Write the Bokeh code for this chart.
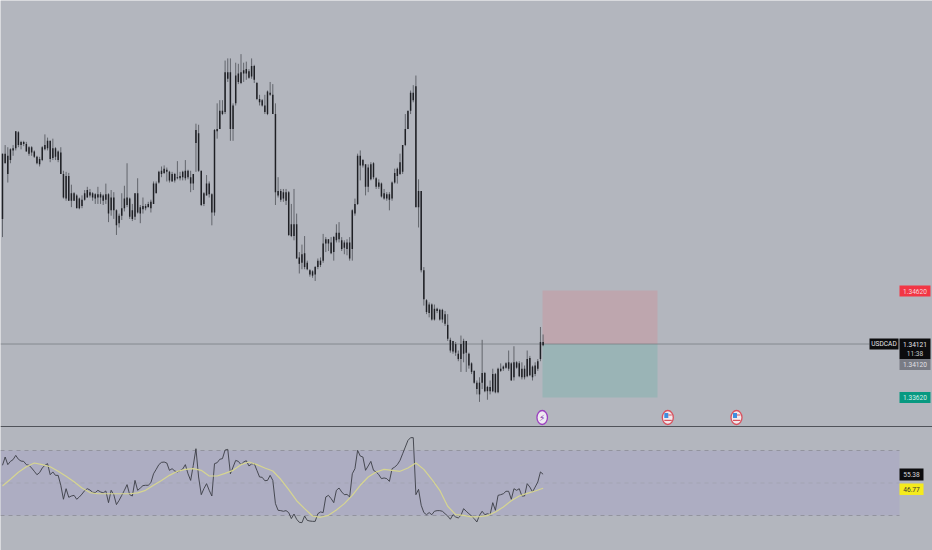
from bokeh.plotting import figure
from bokeh.embed import file_html
from bokeh.resources import INLINE
from bokeh.core.properties import value
from bokeh.models import Range1d
import numpy as np

SYMBOL = "USDCAD"
LAST_PRICE = 1.34121
COUNTDOWN = "11:38"
PREV_PRICE = 1.34120
STOP_PRICE = 1.34620
TARGET_PRICE = 1.33620
RSI_LAST = 55.38
RSI_MA_LAST = 46.77

# prices in units of 0.0001
bar_high = [
13590,13598,13596,13595,13598,13611,13611,13602,13602,13601,
13597,13597,13593,13588,13587,13597,13608,13605,13602,13604,
13596,13593,13596,13574,13573,13572,13561,13554,13552,13549,
13551,13556,13559,13557,13554,13553,13559,13554,13552,13562,
13553,13556,13554,13538,13534,13553,13560,13581,13549,13543,
13553,13567,13542,13549,13543,13545,13547,13564,13564,13574,
13578,13579,13577,13574,13573,13572,13583,13573,13574,13584,
13575,13574,13571,13618,13617,13574,13554,13570,13564,13553,
13613,13637,13640,13640,13677,13679,13679,13637,13675,13674,
13683,13675,13676,13669,13679,13673,13657,13645,13641,13645,
13649,13657,13655,13637,13568,13557,13557,13557,13555,13543,
13557,13534,13498,13505,13513,13490,13482,13481,13485,13492,
13493,13515,13512,13510,13512,13513,13524,13526,13512,13509,
13510,13512,13538,13548,13590,13593,13585,13580,13580,13582,
13582,13568,13566,13563,13557,13554,13554,13564,13576,13577,
13590,13598,13627,13630,13649,13654,13663,13566,13555,13484,
13454,13451,13450,13449,13446,13445,13445,13443,13440,13418,
13415,13414,13406,13420,13417,13415,13404,13395,13387,13378,
13381,13416,13386,13373,13378,13389,13385,13390,13394,13392,
13395,13406,13395,13410,13396,13396,13395,13392,13406,13401,
13392,13395,13398,13428,13421]
bar_low = [
13512,13581,13563,13581,13588,13593,13596,13594,13597,13592,
13588,13588,13586,13580,13578,13583,13593,13593,13582,13584,
13584,13582,13571,13548,13546,13546,13540,13546,13539,13538,
13539,13546,13549,13549,13546,13543,13543,13543,13542,13543,
13526,13532,13529,13514,13521,13528,13536,13540,13529,13527,
13528,13534,13525,13534,13537,13540,13535,13543,13553,13562,
13568,13571,13564,13563,13564,13563,13566,13565,13565,13565,
13566,13554,13556,13573,13573,13541,13541,13551,13549,13523,
13532,13604,13613,13626,13627,13657,13602,13602,13635,13655,
13655,13657,13659,13660,13660,13656,13640,13635,13634,13627,
13626,13644,13627,13542,13549,13545,13545,13542,13513,13512,
13509,13492,13478,13482,13482,13481,13475,13474,13471,13482,
13484,13488,13498,13499,13496,13490,13507,13507,13499,13496,
13495,13490,13490,13532,13542,13565,13577,13551,13554,13565,
13566,13557,13557,13549,13547,13546,13537,13546,13562,13562,
13570,13571,13597,13613,13627,13638,13540,13521,13479,13448,
13440,13437,13434,13434,13441,13434,13432,13429,13415,13404,
13403,13401,13396,13386,13395,13386,13389,13384,13375,13365,
13358,13370,13367,13360,13365,13367,13366,13366,13386,13387,
13389,13387,13378,13378,13389,13381,13379,13379,13381,13382,
13378,13382,13387,13396,13410]
body_top = [
13590,13590,13588,13594,13595,13611,13610,13601,13601,13599,
13596,13596,13592,13587,13585,13596,13598,13602,13602,13595,
13595,13592,13591,13571,13569,13569,13553,13553,13551,13548,
13547,13553,13556,13554,13553,13552,13552,13552,13551,13552,
13552,13549,13549,13537,13532,13539,13548,13549,13548,13537,
13553,13553,13540,13541,13541,13543,13545,13562,13562,13573,
13574,13576,13575,13573,13571,13571,13568,13569,13573,13574,
13574,13568,13571,13612,13609,13574,13553,13562,13562,13552,
13612,13613,13630,13630,13666,13666,13666,13635,13663,13665,
13666,13668,13669,13667,13672,13672,13656,13641,13640,13635,
13648,13647,13645,13627,13555,13555,13554,13554,13554,13524,
13524,13524,13493,13496,13497,13488,13481,13480,13484,13490,
13490,13506,13510,13510,13507,13512,13516,13516,13509,13507,
13507,13507,13537,13543,13588,13588,13584,13580,13577,13580,
13581,13567,13563,13562,13553,13552,13552,13563,13572,13576,
13582,13598,13613,13630,13647,13647,13653,13555,13555,13481,
13453,13449,13449,13445,13445,13444,13444,13440,13430,13416,
13415,13412,13403,13412,13415,13415,13403,13394,13387,13376,
13376,13385,13385,13372,13372,13384,13384,13389,13389,13391,
13394,13395,13394,13395,13395,13394,13389,13389,13398,13399,
13391,13392,13396,13414,13414]
body_bottom = [
13529,13581,13571,13584,13593,13595,13598,13598,13599,13592,
13590,13591,13587,13581,13580,13584,13594,13595,13585,13586,
13587,13584,13571,13549,13548,13546,13546,13546,13539,13539,
13541,13547,13549,13551,13549,13548,13549,13549,13546,13547,
13534,13537,13537,13523,13525,13532,13539,13542,13531,13529,
13531,13535,13534,13538,13539,13540,13539,13543,13553,13563,
13571,13572,13573,13565,13564,13565,13567,13567,13568,13567,
13568,13562,13562,13600,13574,13542,13543,13551,13552,13535,
13535,13611,13613,13627,13629,13660,13613,13613,13637,13657,
13656,13665,13665,13661,13662,13659,13641,13638,13635,13629,
13627,13645,13627,13554,13551,13547,13548,13546,13514,13513,
13513,13492,13487,13488,13484,13482,13477,13476,13477,13484,
13486,13490,13506,13506,13497,13498,13509,13510,13501,13502,
13501,13492,13501,13534,13543,13579,13579,13559,13559,13566,
13568,13559,13559,13550,13548,13548,13547,13548,13563,13569,
13571,13573,13598,13613,13630,13640,13540,13540,13481,13454,
13442,13441,13435,13435,13443,13435,13435,13431,13417,13406,
13405,13404,13398,13398,13403,13404,13392,13386,13376,13370,
13365,13376,13368,13368,13368,13368,13367,13367,13387,13389,
13390,13389,13378,13381,13390,13382,13381,13381,13382,13383,
13381,13384,13389,13398,13411]
rsi_values = [
60.9,66.0,61.3,63.3,64.4,67.0,64.6,63.5,63.3,61.3,
60.9,59.2,57.2,55.1,56.4,59.2,60.9,61.9,55.1,56.8,
54.7,54.7,48.6,40.0,46.5,41.2,42.0,42.4,40.0,41.4,
43.2,45.3,46.5,45.7,44.3,44.1,45.5,44.5,43.9,45.1,
37.9,45.5,42.8,36.7,39.3,42.4,45.5,49.0,42.8,42.0,
51.6,45.5,46.9,48.4,48.6,48.6,50.2,55.7,58.4,61.3,
62.7,62.9,62.3,57.8,58.8,57.4,56.8,57.6,58.6,61.3,
55.7,51.6,60.9,71.1,53.7,42.8,46.5,49.6,45.5,42.0,
61.9,62.5,64.6,65.0,70.3,70.7,55.7,59.8,63.9,63.3,
61.3,62.9,63.7,60.5,61.7,61.9,57.8,53.7,53.5,51.4,
51.6,54.7,51.6,37.3,33.2,33.0,32.6,33.0,31.8,28.1,
30.9,27.7,25.8,25.6,29.7,27.0,26.6,26.4,26.4,31.1,
32.2,31.8,41.4,42.4,40.4,37.9,45.5,46.9,44.5,42.8,
43.0,41.4,55.7,58.8,70.1,66.6,66.0,57.8,60.5,63.3,
57.8,56.8,55.1,52.7,53.1,52.7,51.0,58.8,59.8,61.3,
63.9,68.0,72.1,76.2,77.9,77.9,42.8,46.1,36.3,31.8,
30.5,31.8,30.5,32.6,33.0,33.0,32.6,31.1,29.7,27.7,
30.5,29.1,28.5,30.1,34.2,32.6,31.1,29.7,28.1,26.0,
30.1,32.6,30.5,31.1,30.5,37.9,33.2,42.4,42.8,43.4,
44.9,44.9,40.0,46.5,45.5,46.5,42.0,42.0,49.6,47.5,
44.5,47.5,50.6,56.8,55.38]
rsi_ma_every_third_bar = [
48.2,52.3,56.6,60.0,62.3,61.3,60.0,57.2,54.1,50.8,
46.9,44.1,43.4,43.4,43.4,43.4,43.4,43.9,45.5,48.6,
51.6,54.7,57.2,58.4,58.8,57.8,54.3,54.3,55.9,57.8,
61.3,62.9,61.3,59.2,57.4,52.3,45.9,39.1,34.2,29.7,
28.9,30.1,33.4,37.3,42.4,48.6,53.7,56.8,58.4,57.8,
57.2,59.2,62.3,58.4,52.3,45.5,35.7,30.5,30.1,29.1,
29.3,29.9,32.2,35.2,39.1,42.0,43.6,45.1,46.77]
RSI_UPPER, RSI_MID, RSI_LOWER = 70, 50, 30

BG = "#B3B6BE"
FONT = value("Roboto")
W, H = 932, 550

# layout helpers: reference pixel -> data coordinate
PX_PER_BAR = 2.65
BAR0_PX = 2.0
PX_PER_PRICE = 10700.0
def ix(px): return (px - BAR0_PX) / PX_PER_BAR
def py(px): return LAST_PRICE - (px - 343.5) / PX_PER_PRICE
def ry(px): return RSI_MID + (482.5 - px) / 1.625

p = figure(width=W, height=H, output_backend="svg", toolbar_location=None,
           x_range=Range1d(ix(0), ix(W)), y_range=Range1d(py(H), py(0)),
           x_axis_location=None, y_axis_location=None,
           background_fill_color=BG, border_fill_color=BG,
           min_border=0, min_border_left=0, min_border_right=0, min_border_top=0, min_border_bottom=0,
           outline_line_color=None)
p.grid.visible = False
p.extra_y_ranges = {"rsi": Range1d(ry(H), ry(0))}

idx = np.arange(len(bar_high))
to_price = lambda a: np.array(a) / 1e4

# position tool
entry_left, entry_right = ix(542), ix(657)
p.quad(left=[entry_left], right=[entry_right], bottom=[LAST_PRICE], top=[STOP_PRICE],
       fill_color="#BEA6AE", line_color=None)
p.quad(left=[entry_left], right=[entry_right], bottom=[TARGET_PRICE], top=[LAST_PRICE],
       fill_color="#9AB4B6", line_color=None)

# last price line
p.segment(x0=[ix(0)], x1=[ix(869)], y0=[LAST_PRICE], y1=[LAST_PRICE], line_color="#7A7D84", line_width=0.8)

# candles
p.segment(x0=idx, x1=idx, y0=to_price(bar_low), y1=to_price(bar_high), line_color="#62656C", line_width=1)
p.vbar(x=idx, width=0.55, bottom=to_price(body_bottom), top=to_price(body_top), fill_color="#1E1F24", line_color=None)

# pane separator
p.segment(x0=[ix(0)], x1=[ix(932)], y0=[py(426)], y1=[py(426)], line_color="#50535A", line_width=1)

# event markers
for cx in (667.3, 736):
    p.ellipse(x=[ix(cx)], y=[py(417)], width=11, height=14, width_units="screen", height_units="screen",
              fill_color="#F2E9EC", line_color="#D8525F", line_width=1.3)
    p.quad(left=[ix(cx - 3.5)], right=[ix(cx + 0.5)], bottom=[py(417.5)], top=[py(412.5)], fill_color="#3E8EDE", line_color=None)
    p.quad(left=[ix(cx + 0.5)], right=[ix(cx + 4)], bottom=[py(415)], top=[py(414)], fill_color="#D8525F", line_color=None)
    p.quad(left=[ix(cx - 3.5)], right=[ix(cx + 4)], bottom=[py(420.5)], top=[py(419.3)], fill_color="#D8525F", line_color=None)
p.ellipse(x=[ix(541.7)], y=[py(417)], width=10.5, height=14, width_units="screen", height_units="screen",
          fill_color="#EFEAF2", line_color="#9C3FC0", line_width=1.3)
p.text(x=[ix(541.7)], y=[py(417)], text=["⚡"], text_font=value("DejaVu Sans"), text_font_size="9px",
       text_color="#7B2CA8", text_align="center", text_baseline="middle")

# RSI pane
p.quad(left=[ix(0)], right=[ix(899)], bottom=[RSI_LOWER], top=[RSI_UPPER], y_range_name="rsi",
       fill_color="#ADADC2", line_color=None)
for level, col in ((RSI_UPPER, "#92939E"), (RSI_LOWER, "#92939E"), (RSI_MID, "#A3A4B3")):
    p.segment(x0=[ix(0)], x1=[ix(899)], y0=[level], y1=[level], y_range_name="rsi",
              line_color=col, line_width=1, line_dash="4 4")
p.line(idx[:len(rsi_values)], rsi_values, y_range_name="rsi", line_color="#3B3D45", line_width=0.9)
p.line(np.arange(0, 3 * len(rsi_ma_every_third_bar), 3), rsi_ma_every_third_bar, y_range_name="rsi",
       line_color="#D6D590", line_width=1.2)

# right-hand labels
def tag(left, right, top, bottom, fill):
    p.quad(left=[ix(left)], right=[ix(right)], top=[py(top)], bottom=[py(bottom)],
           fill_color=fill, line_color=None)
def txt(cx, cy, s, col):
    p.text(x=[ix(cx)], y=[py(cy)], text=[s], text_font=FONT, text_font_size="6.6px",
           text_color=col, text_align="center", text_baseline="middle")

tag(869, 898, 338, 349, "#0C0C0E"); txt(883.5, 343.7, SYMBOL, "#E4E4E8")
tag(899, 930, 338, 358.7, "#0C0C0E"); txt(914.5, 343.7, f"{LAST_PRICE:.5f}", "#E4E4E8"); txt(914.5, 353, COUNTDOWN, "#C8C8CC")
tag(899, 930, 358.7, 369.5, "#797B84"); txt(914.5, 364, f"{PREV_PRICE:.5f}", "#E0E0E4")
tag(899, 930, 285, 296, "#F23645"); txt(914.5, 290.5, f"{STOP_PRICE:.5f}", "#F7D5D9")
tag(899, 930, 391.5, 402.5, "#089981"); txt(914.5, 397, f"{TARGET_PRICE:.5f}", "#D5F0EA")
tag(899, 923, 468, 480, "#0C0C0E"); txt(911, 474, f"{RSI_LAST:.2f}", "#D8D8DC")
tag(899, 923, 483, 494.5, "#F5EB1C"); txt(911, 489, f"{RSI_MA_LAST:.2f}", "#3A3A30")

open("out.html", "w").write(file_html(p, INLINE))
